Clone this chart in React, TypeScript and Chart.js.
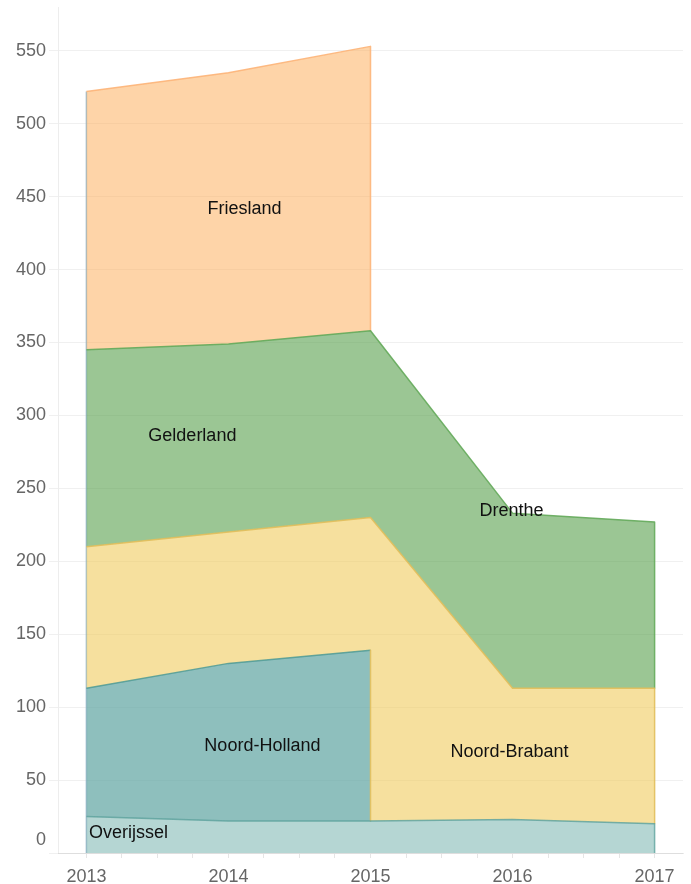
import { useEffect, useRef } from 'react';
import { Chart, registerables } from 'chart.js';

Chart.register(...registerables);

// ---- data ----
const years = [2013, 2014, 2015, 2016, 2017];
const overijssel = [25, 22, 22, 23, 20];
const noordHolland: (number | null)[] = [88, 108, 117, null, null];
const noordBrabant = [97, 90, 91, 90, 93];
const gelderland: (number | null)[] = [135, 129, 128, null, null];
const drenthe: (number | null)[] = [null, null, null, 120, 114];
const friesland: (number | null)[] = [177, 186, 195, null, null];

const yTicks = [0, 50, 100, 150, 200, 250, 300, 350, 400, 450, 500, 550];
const xTicks = [
  2013, 2013.25, 2013.5, 2013.75, 2014, 2014.25, 2014.5, 2014.75, 2015,
  2015.25, 2015.5, 2015.75, 2016, 2016.25, 2016.5, 2016.75, 2017,
];

const areaLabels = [
  { text: 'Friesland', x: 2014.113, y: 441.5 },
  { text: 'Gelderland', x: 2013.746, y: 285.9 },
  { text: 'Drenthe', x: 2015.993, y: 234.5 },
  { text: 'Noord-Holland', x: 2014.239, y: 73.4 },
  { text: 'Noord-Brabant', x: 2015.979, y: 69.2 },
  { text: 'Overijssel', x: 2013.296, y: 13.7 },
];

const FONT = '"Liberation Sans", Arial, Helvetica, sans-serif';

const colors = {
  ovFill: 'rgba(108,174,168,0.5)',
  ovLine: 'rgba(90,160,155,0.8)',
  nhFill: 'rgba(94,164,161,0.7)',
  nhLine: 'rgba(70,150,145,0.8)',
  nbFill: 'rgba(240,203,93,0.6)',
  nbLine: 'rgba(225,190,90,0.9)',
  gFill: 'rgba(88,160,77,0.6)',
  gLine: 'rgba(100,170,90,0.9)',
  fFill: 'rgba(253,169,81,0.5)',
  fLine: 'rgba(253,180,120,0.9)',
  edge: 'rgba(140,175,195,0.8)',
};

function lastIndex(arr: (number | null)[]) {
  let k = -1;
  arr.forEach((v, i) => { if (v != null) k = i; });
  return k;
}

function buildDatasets() {
  const n = years.length;
  const last = n - 1;
  const ovTop = overijssel.slice();
  const nhTop = years.map((_, i) => (noordHolland[i] != null ? ovTop[i] + (noordHolland[i] as number) : ovTop[i]));
  const nbTop = years.map((_, i) => nhTop[i] + noordBrabant[i]);
  const greenTop = years.map((_, i) =>
    gelderland[i] != null ? nbTop[i] + (gelderland[i] as number) : drenthe[i] != null ? nbTop[i] + (drenthe[i] as number) : null);
  const fTop = years.map((_, i) => (friesland[i] != null && greenTop[i] != null ? (greenTop[i] as number) + (friesland[i] as number) : null));

  const lastNH = lastIndex(noordHolland);
  const lastF = lastIndex(friesland);

  const ovPts = years.map((x, i) => ({ x, y: ovTop[i] }));
  ovPts.push({ x: years[last], y: 0 });

  const nhPts: { x: number; y: number }[] = [];
  for (let i = 0; i <= lastNH; i++) nhPts.push({ x: years[i], y: nhTop[i] });
  nhPts.push({ x: years[lastNH], y: ovTop[lastNH] });
  for (let i = lastNH + 1; i < n; i++) nhPts.push({ x: years[i], y: ovTop[i] });

  const nbPts = years.map((x, i) => ({ x, y: nbTop[i] }));
  nbPts.push({ x: years[last], y: nhTop[last] });

  const greenPts: { x: number; y: number }[] = [];
  years.forEach((x, i) => { if (greenTop[i] != null) greenPts.push({ x, y: greenTop[i] as number }); });
  greenPts.push({ x: years[last], y: nbTop[last] });

  const fPts: { x: number; y: number }[] = [];
  years.forEach((x, i) => { if (fTop[i] != null) fPts.push({ x, y: fTop[i] as number }); });
  fPts.push({ x: years[lastF], y: greenTop[lastF] as number });

  const edgePts = [{ x: years[0], y: 0 }, { x: years[0], y: fTop[0] as number }];

  const base = { pointRadius: 0, pointHoverRadius: 0, borderWidth: 1.5, tension: 0 };
  return [
    { ...base, label: 'Overijssel', data: ovPts, fill: 'origin', backgroundColor: colors.ovFill, borderColor: colors.ovLine },
    {
      ...base, label: 'Noord-Holland', data: nhPts, fill: 0, backgroundColor: colors.nhFill, borderColor: colors.nhLine,
      segment: {
        borderColor: (c: any) => (c.p0DataIndex < lastNH ? colors.nhLine : c.p0DataIndex === lastNH ? colors.nbLine : 'rgba(0,0,0,0)'),
      },
    },
    { ...base, label: 'base', data: nhPts, fill: false, borderWidth: 0, borderColor: 'rgba(0,0,0,0)' },
    { ...base, label: 'Noord-Brabant', data: nbPts, fill: 2, backgroundColor: colors.nbFill, borderColor: colors.nbLine },
    { ...base, label: 'Gelderland / Drenthe', data: greenPts, fill: 3, backgroundColor: colors.gFill, borderColor: colors.gLine },
    { ...base, label: 'Friesland', data: fPts, fill: 4, backgroundColor: colors.fFill, borderColor: colors.fLine },
    { ...base, label: 'edge', data: edgePts, fill: false, borderColor: colors.edge },
  ];
}

const labelPlugin = {
  id: 'areaLabels',
  afterDatasetsDraw(chart: any) {
    const { ctx, scales } = chart;
    ctx.save();
    ctx.font = `18px ${FONT}`;
    ctx.fillStyle = '#111';
    ctx.textAlign = 'center';
    ctx.textBaseline = 'middle';
    for (const l of areaLabels) {
      ctx.fillText(l.text, scales.x.getPixelForValue(l.x), scales.y.getPixelForValue(l.y));
    }
    ctx.restore();
  },
};

export default function App() {
  const ref = useRef<HTMLCanvasElement | null>(null);
  useEffect(() => {
    document.body.style.margin = '0';
    if (!ref.current) return;
    const chart = new Chart(ref.current, {
      type: 'line',
      data: { datasets: buildDatasets() as any },
      options: {
        responsive: false,
        animation: false,
        layout: { padding: { left: 16, right: 8, top: 7, bottom: 0 } },
        plugins: { legend: { display: false }, tooltip: { enabled: false } },
        elements: { line: { borderJoinStyle: 'round' } },
        scales: {
          x: {
            type: 'linear',
            min: 2012.8,
            max: 2017.2,
            afterBuildTicks: (axis: any) => { axis.ticks = xTicks.map((v) => ({ value: v })); },
            afterFit: (axis: any) => { axis.height = 31; axis.paddingLeft = 0; axis.paddingRight = 0; },
            ticks: {
              autoSkip: false,
              maxRotation: 0,
              padding: 8,
              color: '#666',
              font: { family: FONT, size: 18 },
              callback: (v: any) => (Number.isInteger(v) ? String(v) : ''),
            },
            grid: { drawOnChartArea: false, drawTicks: true, tickLength: 5, color: 'rgba(0,0,0,0.1)' },
            border: { display: true, color: 'rgba(0,0,0,0.08)' },
          },
          y: {
            type: 'linear',
            min: 0,
            max: 580,
            afterBuildTicks: (axis: any) => { axis.ticks = yTicks.map((v) => ({ value: v })); },
            afterFit: (axis: any) => { axis.width = 42; axis.paddingTop = 0; axis.paddingBottom = 0; },
            ticks: {
              autoSkip: false,
              padding: 3,
              color: '#666',
              font: (c: any) => (c.tick && c.tick.value === 0 ? { family: FONT, size: 18, lineHeight: 1.444 } : { family: FONT, size: 18 }),
              callback: (v: any) => (v === 0 ? ['0', ''] : String(v)),
            },
            grid: { color: 'rgba(0,0,0,0.06)', tickLength: 9 },
            border: { display: true, color: 'rgba(0,0,0,0.07)' },
          },
        },
      },
      plugins: [labelPlugin],
    });
    return () => chart.destroy();
  }, []);
  return <canvas ref={ref} width={691} height={884} style={{ display: 'block' }} />;
}
